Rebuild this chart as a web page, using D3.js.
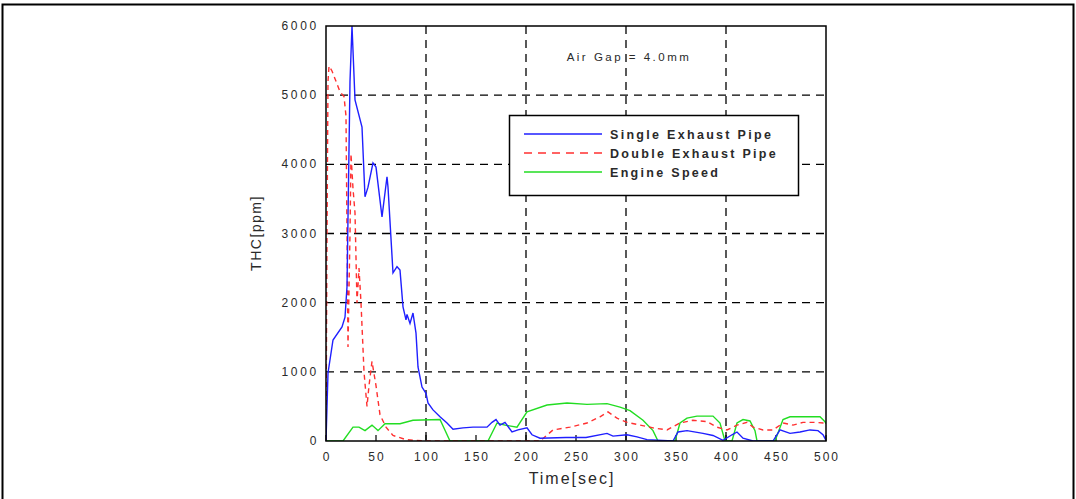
<!DOCTYPE html>
<html>
<head>
<meta charset="utf-8">
<script src="https://cdn.jsdelivr.net/npm/d3@7"></script>
<style>
  body { margin: 0; background: #fff; }
  svg text { font-family: "Liberation Sans", Arial, sans-serif; fill: #2a2a2a; }
</style>
</head>
<body>
<div id="chart"></div>
<script>
// values
var xTicks = [0, 50, 100, 150, 200, 250, 300, 350, 400, 450, 500];
var yTicks = [0, 1000, 2000, 3000, 4000, 5000, 6000];
var xGrid = [100, 200, 300, 400];
var yGrid = [1000, 2000, 3000, 4000, 5000];

var singleT = [0, 2, 7, 16, 19, 21, 24, 26, 29, 36, 39, 42, 47, 50, 56, 61, 62, 67, 71, 74, 77, 80, 81, 84, 87, 90, 92, 96, 100, 102, 107, 114, 121, 127, 137, 147, 161, 166, 170, 174, 179, 186, 192, 201, 206, 214, 240, 260, 281, 287, 301, 311, 321, 347, 352, 361, 377, 387, 397, 406, 411, 417, 427, 447, 454, 464, 474, 484, 492, 497, 500];
var singleV = [0, 983, 1460, 1650, 1790, 2230, 5200, 6000, 4930, 4540, 3530, 3670, 4020, 3960, 3240, 3820, 3670, 2430, 2520, 2470, 1940, 1750, 1830, 1700, 1850, 1560, 1070, 780, 690, 550, 450, 350, 260, 170, 190, 200, 200, 270, 310, 230, 270, 130, 160, 190, 90, 40, 50, 50, 110, 70, 90, 60, 20, 0, 130, 150, 110, 80, 10, 90, 130, 40, 0, 0, 160, 110, 130, 160, 150, 90, 10];

var doubleT = [0, 1, 2, 3, 6, 10, 14, 18, 20, 22, 24, 25, 27, 29, 31, 33, 35, 38, 41, 43, 46, 50, 54, 60, 67, 80, 100, 214, 227, 244, 261, 274, 282, 291, 301, 314, 327, 341, 354, 367, 381, 391, 401, 411, 421, 427, 437, 447, 457, 467, 477, 487, 498, 500];
var doubleV = [0, 3000, 5200, 5420, 5350, 5200, 5050, 4980, 4700, 1360, 3000, 4150, 3650, 3300, 2000, 2500, 2000, 1000, 500, 800, 1150, 800, 380, 200, 80, 20, 0, 0, 160, 200, 260, 350, 420, 330, 270, 230, 190, 160, 260, 300, 280, 200, 160, 230, 270, 200, 160, 160, 260, 230, 270, 270, 260, 250];

var speedT = [0, 17, 27, 33, 39, 46, 52, 59, 74, 87, 114, 124, 162, 171, 179, 191, 201, 221, 241, 261, 281, 294, 304, 317, 327, 332, 349, 354, 361, 371, 387, 394, 399, 406, 411, 417, 424, 429, 431, 449, 457, 464, 494, 499, 500];
var speedV = [0, 0, 200, 200, 150, 230, 150, 250, 250, 300, 310, 0, 0, 260, 230, 200, 420, 520, 550, 530, 540, 490, 440, 300, 150, 0, 0, 260, 330, 360, 360, 260, 0, 0, 260, 310, 290, 150, 0, 0, 310, 350, 350, 280, 250];

var seriesNames = ["Single Exhaust Pipe", "Double Exhaust Pipe", "Engine Speed"];
var seriesColors = ["#1f1fff", "#ff3030", "#22dd22"];

var width = 1076, height = 499;
var svg = d3.select("#chart").append("svg")
  .attr("width", width)
  .attr("height", height);

// outer frame of the figure
svg.append("path")
  .attr("d", "M2.5,510 L2.5,4.5 L1073.5,4.5 L1073.5,510")
  .attr("fill", "none")
  .attr("stroke", "#000")
  .attr("stroke-width", 2);

var x = d3.scaleLinear().domain([0, 500]).range([326, 826]);
var y = d3.scaleLinear().domain([0, 6000]).range([441, 26]);

// grid
svg.selectAll(".vgrid").data(xGrid).join("line")
  .attr("x1", d => x(d)).attr("x2", d => x(d))
  .attr("y1", y(6000)).attr("y2", y(0))
  .attr("stroke", "#000").attr("stroke-width", 1.3)
  .attr("stroke-dasharray", "8,6");
svg.selectAll(".hgrid").data(yGrid).join("line")
  .attr("x1", x(0)).attr("x2", x(500))
  .attr("y1", d => y(d)).attr("y2", d => y(d))
  .attr("stroke", "#000").attr("stroke-width", 1.3)
  .attr("stroke-dasharray", "8,6");

// small ticks at the bottom
svg.selectAll(".xtick").data(xTicks).join("line")
  .attr("x1", d => x(d)).attr("x2", d => x(d))
  .attr("y1", y(0)).attr("y2", y(0) - 6)
  .attr("stroke", "#000").attr("stroke-width", 1.2);

svg.append("clipPath").attr("id", "plot")
  .append("rect")
  .attr("x", x(0)).attr("y", y(6000))
  .attr("width", x(500) - x(0)).attr("height", y(0) - y(6000));

var line = d3.line()
  .x(d => x(d[0]))
  .y(d => y(d[1]));

var g = svg.append("g").attr("clip-path", "url(#plot)");

g.append("path")
  .datum(d3.zip(speedT, speedV))
  .attr("d", line)
  .attr("fill", "none")
  .attr("stroke", seriesColors[2])
  .attr("stroke-width", 1.4);

g.append("path")
  .datum(d3.zip(doubleT, doubleV))
  .attr("d", line)
  .attr("fill", "none")
  .attr("stroke", seriesColors[1])
  .attr("stroke-width", 1.4)
  .attr("stroke-dasharray", "5,4");

g.append("path")
  .datum(d3.zip(singleT, singleV))
  .attr("d", line)
  .attr("fill", "none")
  .attr("stroke", seriesColors[0])
  .attr("stroke-width", 1.4);

// plot frame
svg.append("rect")
  .attr("x", x(0)).attr("y", y(6000))
  .attr("width", x(500) - x(0)).attr("height", y(0) - y(6000))
  .attr("fill", "none")
  .attr("stroke", "#000")
  .attr("stroke-width", 1.5);

// axis labels
svg.selectAll(".ylab").data(yTicks).join("text")
  .attr("x", 319)
  .attr("y", d => y(d) + 4)
  .attr("text-anchor", "end")
  .style("font-size", "12px")
  .style("letter-spacing", "2.7px")
  .text(d => d);

svg.selectAll(".xlab").data(xTicks).join("text")
  .attr("x", d => x(d) + 1)
  .attr("y", 461)
  .attr("text-anchor", "middle")
  .style("font-size", "12px")
  .style("letter-spacing", "2px")
  .text(d => d);

svg.append("text")
  .attr("x", 572).attr("y", 484)
  .attr("text-anchor", "middle")
  .style("font-size", "16px")
  .style("letter-spacing", "2px")
  .text("Time[sec]");

svg.append("text")
  .attr("transform", "translate(261,233) rotate(-90)")
  .attr("text-anchor", "middle")
  .style("font-size", "14px")
  .style("letter-spacing", "1.5px")
  .text("THC[ppm]");

svg.append("text")
  .attr("x", 629).attr("y", 61)
  .attr("text-anchor", "middle")
  .style("font-size", "11.5px")
  .style("letter-spacing", "2.5px")
  .text("Air Gap = 4.0mm");

// legend
var legend = svg.append("g");
legend.append("rect")
  .attr("x", 509.5).attr("y", 115.5)
  .attr("width", 289).attr("height", 80)
  .attr("fill", "#fff")
  .attr("stroke", "#000")
  .attr("stroke-width", 1.5);

var rows = legend.selectAll(".row").data(seriesNames).join("g")
  .attr("transform", (d, i) => "translate(0," + [134, 153, 172][i] + ")");
rows.append("line")
  .attr("x1", 524).attr("x2", 602)
  .attr("stroke", (d, i) => seriesColors[i])
  .attr("stroke-width", 1.4)
  .attr("stroke-dasharray", (d, i) => i == 1 ? "8,6" : null);
rows.append("text")
  .attr("x", 610).attr("y", 4.5)
  .style("font-size", "12.5px")
  .style("font-weight", "bold")
  .style("letter-spacing", "2.3px")
  .text(d => d);
</script>
</body>
</html>
